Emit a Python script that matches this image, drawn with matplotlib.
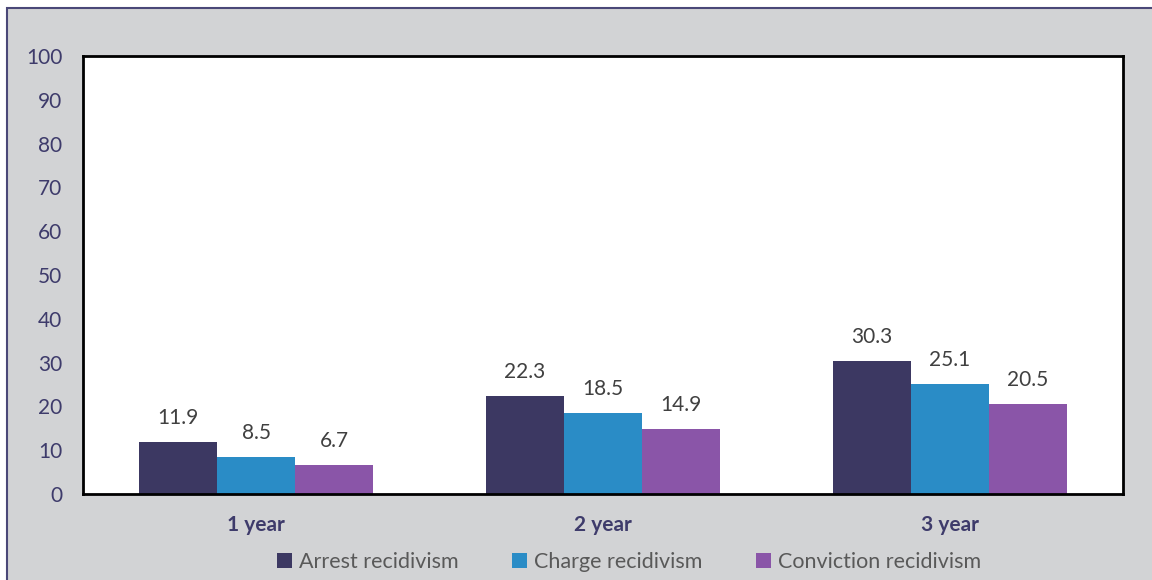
import numpy as np
import matplotlib.pyplot as plt
from matplotlib.patches import Rectangle

# recidivism rates (%) by follow-up period
periods = ['1 year', '2 year', '3 year']
arrest = [11.9, 22.3, 30.3]
charge = [8.5, 18.5, 25.1]
conviction = [6.7, 14.9, 20.5]
series_names = ['Arrest recidivism', 'Charge recidivism', 'Conviction recidivism']
colors = ['#3C3862', '#2A8CC6', '#8A55A8']

plt.rcParams['font.family'] = ['Lato', 'DejaVu Sans']

fig = plt.figure(figsize=(11.52, 5.8), dpi=100)
fig.patch.set_facecolor('white')
# grey chart frame with a dark top/left border
fig.patches.append(Rectangle((7 / 1152, -0.1), 1.0, 1.1 - 8 / 580, transform=fig.transFigure,
                             facecolor='#D2D3D5', edgecolor='#4A4878', linewidth=1.5,
                             zorder=-5))

ax = fig.add_axes([83 / 1152, 1 - 494 / 580, 1040 / 1152, 438 / 580])
ax.set_zorder(2)
ax.set_facecolor('white')

x = np.arange(len(periods))
w = 0.225
for i, (vals, name, c) in enumerate(zip([arrest, charge, conviction], series_names, colors)):
    bars = ax.bar(x + (i - 1) * w, vals, width=w, color=c, label=name, zorder=2)
    for b, v in zip(bars, vals):
        ax.text(b.get_x() + b.get_width() / 2, v + 3.2, f'{v:.1f}', ha='center', va='bottom',
                fontsize=15, color='#404040')

ax.set_xlim(-0.5, 2.5)
ax.set_ylim(0, 100)
ax.set_yticks(range(0, 101, 10))
ax.set_xticks(x)
ax.set_xticklabels(periods, fontweight='bold')
ax.tick_params(axis='y', length=0, pad=15, labelsize=15, labelcolor='#3E3B6B')
ax.tick_params(axis='x', length=0, pad=15, labelsize=15, labelcolor='#3E3B6B')
for s in ax.spines.values():
    s.set_color('black')
    s.set_linewidth(2)

leg = fig.legend(loc='center', bbox_to_anchor=(629 / 1152, 1 - 562 / 580), ncol=3,
                 frameon=False, fontsize=15.5, handlelength=0.7, handleheight=0.7,
                 handletextpad=0.3, columnspacing=2.5)
for t in leg.get_texts():
    t.set_color('#595959')

fig.savefig('out.png', dpi=100, facecolor=fig.get_facecolor())
